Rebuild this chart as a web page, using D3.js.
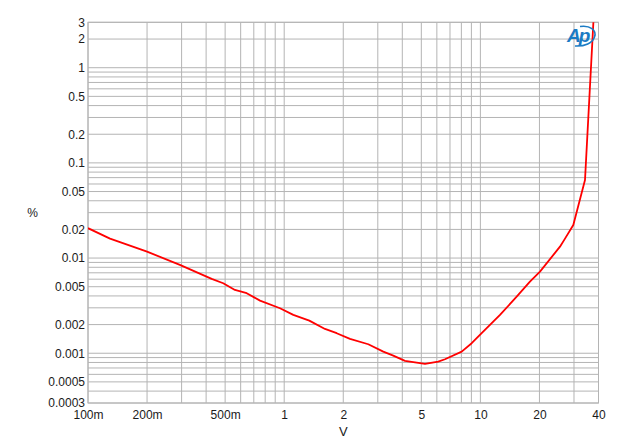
<!DOCTYPE html>
<html>
<head>
<meta charset="utf-8">
<script src="https://cdn.jsdelivr.net/npm/d3@7"></script>
<style>
  html, body { margin: 0; padding: 0; background: #fff; }
  svg { display: block; }
  text { font-family: "Liberation Sans", Arial, sans-serif; }
</style>
</head>
<body>
<svg id="chart" width="622" height="440"></svg>
<script>
// ---- data ----
const volts = [0.1, 0.1295, 0.2, 0.294, 0.427, 0.489, 0.561, 0.644, 0.753, 0.952,
  1.113, 1.343, 1.614, 1.852, 2.165, 2.683, 3.20, 3.597, 4.128, 5.22,
  6.10, 6.60, 8.03, 9.03, 10.15, 12.59, 15.31, 17.89, 20.13, 25.45,
  27.0, 29.76, 34.14, 37.7];
const thdPct = [0.0206, 0.0160, 0.01168, 0.00847, 0.00604, 0.00544, 0.004625, 0.00427, 0.00357, 0.00297,
  0.002527, 0.0022, 0.0018, 0.001623, 0.001414, 0.001243, 0.00104, 0.000944, 0.00083, 0.000772,
  0.000817, 0.000865, 0.00104, 0.001274, 0.001623, 0.002527, 0.00393, 0.00565, 0.0072, 0.01318,
  0.016, 0.0223, 0.0661, 3.1];

const xTickValues = [0.1, 0.2, 0.5, 1, 2, 5, 10, 20, 40];
const xTickLabels = ["100m", "200m", "500m", "1", "2", "5", "10", "20", "40"];
const yTickValues = [3, 2, 1, 0.5, 0.2, 0.1, 0.05, 0.02, 0.01, 0.005, 0.002, 0.001, 0.0005, 0.0003];
const yTickLabels = ["3", "2", "1", "0.5", "0.2", "0.1", "0.05", "0.02", "0.01", "0.005", "0.002", "0.001", "0.0005", "0.0003"];

const xDomain = [0.1, 40];
const yDomain = [0.0003, 3];
const xTitle = "V";
const yTitle = "%";

// ---- layout ----
const W = 622, H = 440;
const m = { left: 88, top: 22.3, right: 23.5, bottom: 37 };
const iw = W - m.left - m.right, ih = H - m.top - m.bottom;

const svg = d3.select("#chart");
const x = d3.scaleLog().domain(xDomain).range([m.left, m.left + iw]);
const y = d3.scaleLog().domain(yDomain).range([m.top + ih, m.top]);

const gridColor = "#b4b4b4";

// grid
const grid = svg.append("g");
grid.selectAll("line.vx").data(x.ticks()).join("line")
  .attr("x1", d => x(d)).attr("x2", d => x(d))
  .attr("y1", m.top).attr("y2", m.top + ih)
  .attr("stroke", gridColor).attr("stroke-width", 1);
grid.selectAll("line.hy").data(y.ticks()).join("line")
  .attr("y1", d => y(d)).attr("y2", d => y(d))
  .attr("x1", m.left).attr("x2", m.left + iw)
  .attr("stroke", gridColor).attr("stroke-width", 1);
grid.append("rect")
  .attr("x", m.left).attr("y", m.top).attr("width", iw).attr("height", ih)
  .attr("fill", "none").attr("stroke", gridColor).attr("stroke-width", 1);

// axes (labels only, via d3 axis generators)
const xAxis = d3.axisBottom(x).tickValues(xTickValues)
  .tickFormat((d, i) => xTickLabels[i]).tickSize(0).tickPadding(7);
const gx = svg.append("g").attr("transform", `translate(0,${m.top + ih})`).call(xAxis);
gx.select(".domain").remove();
gx.selectAll("text").attr("font-size", 12).attr("fill", "#1a1a1a")
  .attr("font-family", "'Liberation Sans', Arial, sans-serif");

const yAxis = d3.axisLeft(y).tickValues(yTickValues)
  .tickFormat((d, i) => yTickLabels[i]).tickSize(0).tickPadding(3);
const gy = svg.append("g").attr("transform", `translate(${m.left},0)`).call(yAxis);
gy.select(".domain").remove();
gy.selectAll("text").attr("font-size", 12).attr("fill", "#1a1a1a")
  .attr("font-family", "'Liberation Sans', Arial, sans-serif");

// titles
svg.append("text").attr("x", m.left + iw / 2).attr("y", 436)
  .attr("text-anchor", "middle").attr("font-size", 13).attr("fill", "#1a1a1a").text(xTitle);
svg.append("text").attr("x", 32.5).attr("y", m.top + ih / 2 + 4.5)
  .attr("text-anchor", "middle").attr("font-size", 12).attr("fill", "#1a1a1a").text(yTitle);

// curve
svg.append("clipPath").attr("id", "plotclip").append("rect")
  .attr("x", m.left).attr("y", m.top).attr("width", iw).attr("height", ih);
const line = d3.line().x((d, i) => x(volts[i])).y((d, i) => y(thdPct[i]));
svg.append("path").datum(volts)
  .attr("clip-path", "url(#plotclip)")
  .attr("d", line)
  .attr("fill", "none").attr("stroke", "#ff0000").attr("stroke-width", 1.8)
  .attr("stroke-linejoin", "round");

// AP logo
const logo = svg.append("g").attr("transform", "translate(566,25)");
logo.append("text").attr("x", 1).attr("y", 17)
  .attr("font-size", 19).attr("font-style", "italic").attr("font-weight", "bold")
  .attr("fill", "#1b7bc4").attr("letter-spacing", -2).text("Ap");
logo.append("path")
  .attr("d", "M14,1.5 C24,0 31,5 28.5,12 C26.5,18 19,21.5 9,21")
  .attr("fill", "none").attr("stroke", "#1b7bc4").attr("stroke-width", 1.6);
</script>
</body>
</html>
